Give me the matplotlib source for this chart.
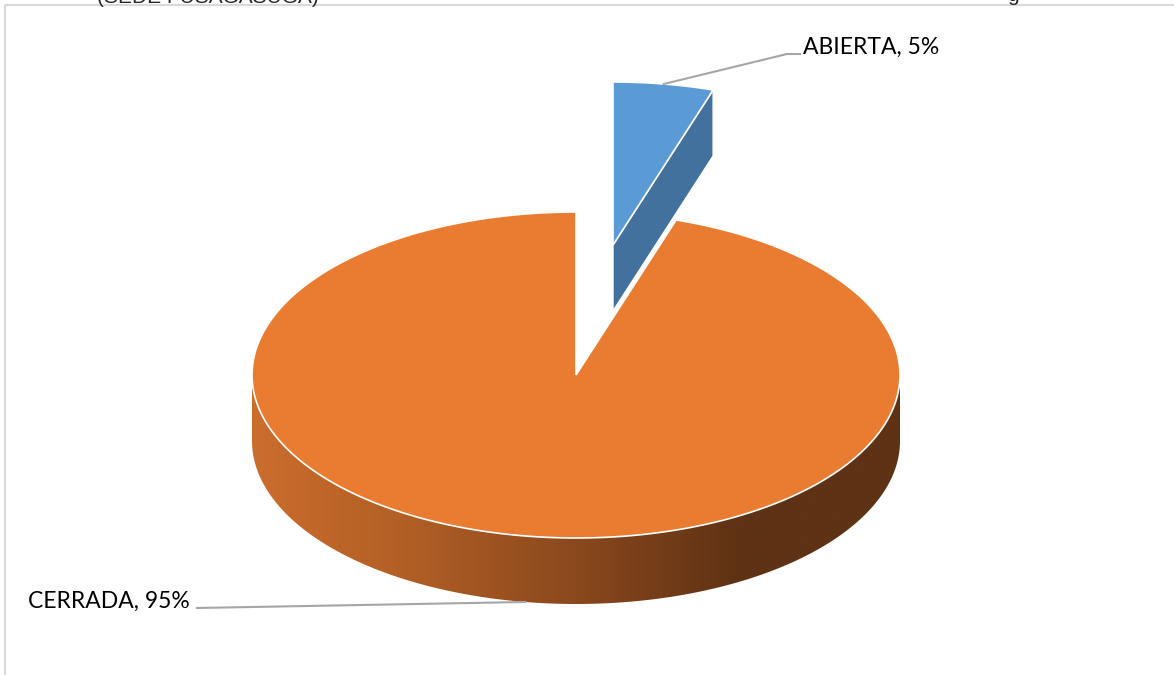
import numpy as np
import matplotlib.pyplot as plt
from matplotlib.patches import Polygon
from matplotlib.colors import LinearSegmentedColormap

labels = ['ABIERTA', 'CERRADA']
values = [5, 95]
top_colors = ['#5B9BD5', '#EA7C31']
cut_colors = ['#41719C', '#A9561E']
side_stops = [
    ['#41719C', '#41719C'],
    ['#CB6D2D', '#B05E25', '#8A481D', '#5F3214', '#5E3214'],
]

# layout, in pixels of the 1174x675 picture
W, H = 1174, 675
cx, cy = 576, 375
rx, ry = 324, 163
depth = 66
explode = [(37, -130), (0, 0)]
label_pos = [(803, 47), (190, 601)]
label_ha = ['left', 'right']
elbow = [[(787, 54), (800, 54)], [(197, 608)]]


def rim(theta, ox=0, oy=0, dz=0):
    # theta in degrees, clockwise from 12 o'clock
    t = np.radians(theta)
    return cx + ox + rx * np.sin(t), cy + oy - ry * np.cos(t) + dz


fig = plt.figure(figsize=(W / 100, H / 100), dpi=100)
ax = fig.add_axes([0, 0, 1, 1])
ax.set_xlim(0, W)
ax.set_ylim(H, 0)
ax.axis('off')

# chart frame and clipped text from the page
ax.plot([5, 5, W], [H, 5, 5], color='#D9D9D9', lw=1.5, zorder=1)
fig.text(97 / W, 1 - 3 / H, '(SEDE FUSAGASUGÁ)', fontsize=15,
         family='Liberation Sans', color='#262626', va='baseline')
fig.text(1007 / W, 1 - 1 / H, 'g', fontsize=15,
         family='Liberation Sans', color='#262626', va='baseline')

total = sum(values)
bounds = np.concatenate([[0], np.cumsum(values) / total * 360])
order = np.argsort([e[1] for e in explode])

for i in order:
    a0, a1 = bounds[i], bounds[i + 1]
    ox, oy = explode[i]
    z = 2 + list(order).index(i) * 5

    # outer side wall (front half only)
    s0, s1 = max(a0, 90), min(a1, 270)
    if s1 > s0:
        th = np.linspace(s0, s1, 200)
        tx, ty = rim(th, ox, oy)
        bx, by = rim(th[::-1], ox, oy, depth)
        pts = np.column_stack([np.r_[tx, bx], np.r_[ty, by]])
        patch = Polygon(pts, closed=True, facecolor='none', edgecolor='none', zorder=z)
        ax.add_patch(patch)
        cmap = LinearSegmentedColormap.from_list('side%d' % i, side_stops[i])
        grad = np.linspace(0, 1, 256).reshape(1, -1)
        img = ax.imshow(grad, cmap=cmap, aspect='auto', zorder=z,
                        extent=[cx + ox - rx, cx + ox + rx, cy + oy + ry + depth, cy + oy - ry])
        img.set_clip_path(patch)

    # radial cut faces that face the viewer
    for a, sign in [(a0, -1), (a1, 1)]:
        if sign * np.sin(np.radians(a)) > 1e-6:
            px, py = rim(a, ox, oy)
            face = [(cx + ox, cy + oy), (px, py), (px, py + depth), (cx + ox, cy + oy + depth)]
            ax.add_patch(Polygon(face, closed=True, facecolor=cut_colors[i],
                                 edgecolor='white', lw=1, zorder=z + 1))

    # top face
    th = np.linspace(a0, a1, 300)
    tx, ty = rim(th, ox, oy)
    pts = np.column_stack([np.r_[cx + ox, tx], np.r_[cy + oy, ty]])
    ax.add_patch(Polygon(pts, closed=True, facecolor=top_colors[i],
                         edgecolor='white', lw=1.2, zorder=z + 2))

    # data label with leader line
    mid = (a0 + a1) / 2
    if np.cos(np.radians(mid)) > 0:
        sx, sy = rim(mid, ox, oy)
    else:
        sx, sy = rim(mid, ox, oy, depth)
    path = [(sx, sy)] + elbow[i]
    ax.plot([p[0] for p in path], [p[1] for p in path], color='#A6A6A6', lw=1.5, zorder=20)
    ax.text(label_pos[i][0], label_pos[i][1], '%s, %d%%' % (labels[i], values[i]),
            ha=label_ha[i], va='center', fontsize=16.5, family='Lato', color='black', zorder=21)

fig.savefig('out.png', dpi=100)
